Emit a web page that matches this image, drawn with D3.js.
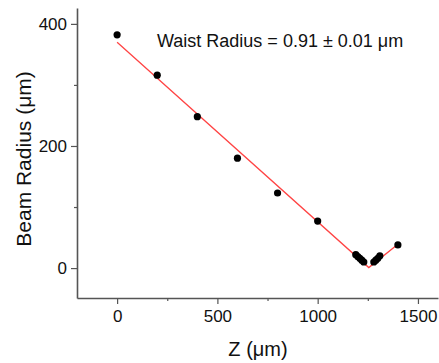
<!DOCTYPE html>
<html>
<head>
<meta charset="utf-8">
<script src="https://cdn.jsdelivr.net/npm/d3@7"></script>
<style>
  html, body { margin: 0; padding: 0; background: #fff; }
  svg { display: block; font-family: "Liberation Sans", Arial, sans-serif; }
</style>
</head>
<body>
<svg id="chart" width="439" height="363"></svg>
<script>
// ---- data ----
const zPos = [0, 200, 400, 600, 800, 1000, 1190, 1200, 1210, 1220, 1230, 1280, 1290, 1300, 1310, 1400];
const beamRadius = [382, 316, 248, 180, 123, 77, 22, 19, 16, 13, 10, 10, 13, 16, 20, 38];
const fitZ = [0, 1255, 1400];
const fitR = [370, 0.9, 39];
const xTicks = [0, 500, 1000, 1500];
const xMinor = [250, 750, 1250];
const yTicks = [0, 200, 400];
const yMinor = [100, 300];
const annotation = "Waist Radius = 0.91 \u00B1 0.01 \u03BCm";
const xLabel = "Z (\u03BCm)";
const yLabel = "Beam Radius (\u03BCm)";

// ---- layout ----
const svg = d3.select("#chart");
const x = d3.scaleLinear().domain([-200, 1600]).range([77, 438]);
const y = d3.scaleLinear().domain([-49, 426]).range([298, 8]);
const axisColor = "#555";

// fit line
const line = d3.line().x(d => x(d[0])).y(d => y(d[1]));
svg.append("path")
  .datum(fitZ.map((z, i) => [z, fitR[i]]))
  .attr("d", line)
  .attr("fill", "none")
  .attr("stroke", "#f44")
  .attr("stroke-width", 1.3);

// points
svg.append("g").selectAll("circle")
  .data(zPos.map((z, i) => [z, beamRadius[i]]))
  .join("circle")
  .attr("cx", d => x(d[0]))
  .attr("cy", d => y(d[1]))
  .attr("r", 3.6)
  .attr("fill", "#000");

// axes
function styleAxis(g) {
  g.select(".domain").attr("stroke", axisColor).attr("stroke-width", 1.6);
  g.selectAll(".tick line").attr("stroke", axisColor).attr("stroke-width", 1.2);
  g.selectAll(".tick text").attr("fill", "#111").style("font-size", "17px");
}

svg.append("g")
  .attr("transform", `translate(0,${y.range()[0]})`)
  .call(d3.axisBottom(x).tickValues(xTicks).tickSizeInner(6).tickSizeOuter(0).tickPadding(6).tickFormat(d3.format("d")))
  .call(styleAxis);
svg.append("g")
  .attr("transform", `translate(0,${y.range()[0]})`)
  .call(d3.axisBottom(x).tickValues(xMinor).tickSizeInner(3).tickSizeOuter(0).tickFormat(""))
  .call(g => g.select(".domain").remove())
  .call(g => g.selectAll(".tick line").attr("stroke", axisColor).attr("stroke-width", 1.2));

svg.append("g")
  .attr("transform", `translate(${x.range()[0]},0)`)
  .call(d3.axisLeft(y).tickValues(yTicks).tickSizeInner(6).tickSizeOuter(0).tickPadding(4).tickFormat(d3.format("d")))
  .call(styleAxis);
svg.append("g")
  .attr("transform", `translate(${x.range()[0]},0)`)
  .call(d3.axisLeft(y).tickValues(yMinor).tickSizeInner(3).tickSizeOuter(0).tickFormat(""))
  .call(g => g.select(".domain").remove())
  .call(g => g.selectAll(".tick line").attr("stroke", axisColor).attr("stroke-width", 1.2));

// axis labels
svg.append("text")
  .attr("x", 258).attr("y", 356)
  .attr("text-anchor", "middle")
  .style("font-size", "20px")
  .attr("fill", "#111")
  .text(xLabel);

svg.append("text")
  .attr("transform", `translate(31,159) rotate(-90)`)
  .attr("text-anchor", "middle")
  .style("font-size", "21px")
  .attr("fill", "#111")
  .text(yLabel);

// annotation
svg.append("text")
  .attr("x", 157).attr("y", 47)
  .style("font-size", "18px")
  .attr("fill", "#111")
  .text(annotation);
</script>
</body>
</html>
